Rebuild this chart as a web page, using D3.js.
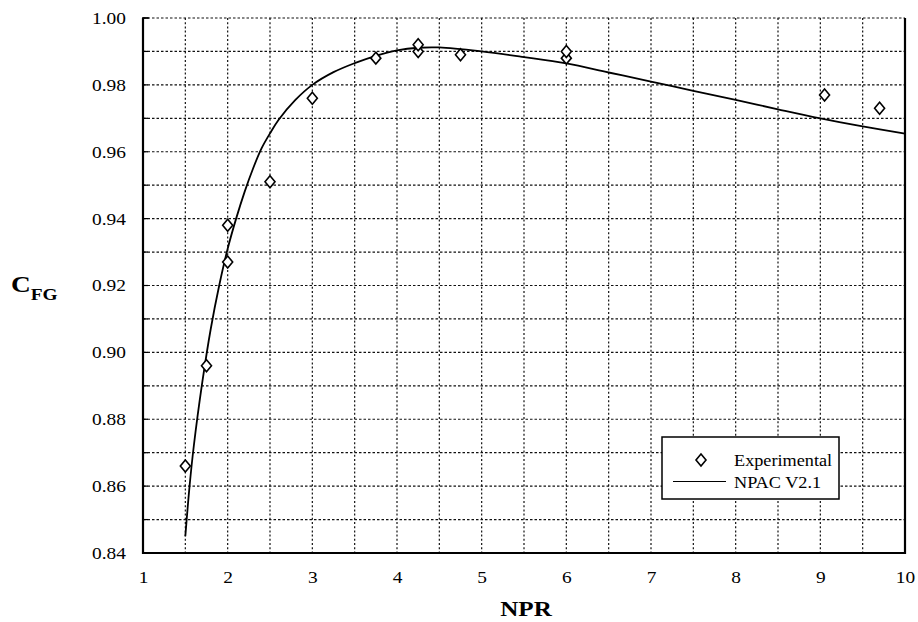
<!DOCTYPE html>
<html>
<head>
<meta charset="utf-8">
<script src="https://cdn.jsdelivr.net/npm/d3@7"></script>
<style>
  html, body { margin: 0; padding: 0; background: #fff; }
  svg { display: block; }
  text { font-family: "Liberation Serif", "Times New Roman", serif; fill: #000; }
</style>
</head>
<body>
<svg id="chart" width="918" height="622"></svg>
<script>
// ---- data ----
const expNPR = [1.5, 1.75, 2.0, 2.0, 2.5, 3.0, 3.75, 4.25, 4.25, 4.75, 6.0, 6.0, 9.05, 9.7];
const expCFG = [0.866, 0.896, 0.927, 0.938, 0.951, 0.976, 0.988, 0.990, 0.992, 0.989, 0.988, 0.990, 0.977, 0.973];

const curveNPR = [1.5, 1.55, 1.6, 1.7, 1.8, 1.9, 2.0, 2.1, 2.2, 2.3, 2.4, 2.5, 2.6, 2.8, 3.0, 3.25, 3.5, 3.75, 4.0, 4.25, 4.5, 5.0, 5.5, 6.0, 6.5, 7.0, 7.5, 8.0, 8.5, 9.0, 9.5, 10.0];
const curveCFG = [0.845, 0.860, 0.872, 0.891, 0.907, 0.920, 0.931, 0.940, 0.948, 0.955, 0.961, 0.9655, 0.9695, 0.9755, 0.9800, 0.9838, 0.9865, 0.9887, 0.9903, 0.9911, 0.9912, 0.9900, 0.9883, 0.9864, 0.9837, 0.9810, 0.9782, 0.9755, 0.9727, 0.9700, 0.9676, 0.9654];

const xTicks = [1, 2, 3, 4, 5, 6, 7, 8, 9, 10];
const yTicks = [0.84, 0.86, 0.88, 0.90, 0.92, 0.94, 0.96, 0.98, 1.00];
const xGrid = d3.range(1.5, 10, 0.5);
const yGrid = d3.range(0.85, 1.0001, 0.01);
const legendLabels = ["Experimental", "NPAC V2.1"];

// ---- layout ----
const svg = d3.select("#chart");
const L = 143, R = 905, T = 18, B = 553;
const SX = 1.14; // horizontal stretch of the scanned type
const x = d3.scaleLinear().domain([1, 10]).range([L, R]);
const y = d3.scaleLinear().domain([0.84, 1.00]).range([B, T]);

// grid
const grid = svg.append("g");
grid.selectAll("line.vg").data(xGrid).join("line")
  .attr("x1", d => x(d)).attr("x2", d => x(d)).attr("y1", T).attr("y2", B)
  .attr("stroke", "#111").attr("stroke-width", 1.2).attr("stroke-dasharray", "2,2.2");
grid.selectAll("line.hg").data(yGrid).join("line")
  .attr("x1", L).attr("x2", R).attr("y1", d => y(d)).attr("y2", d => y(d))
  .attr("stroke", "#111").attr("stroke-width", 1.2).attr("stroke-dasharray", "2.5,2");

// axes
const yAxis = d3.axisLeft(y).tickValues(yTicks).tickFormat(d3.format(".2f")).tickSize(0).tickPadding(17);
const gy = svg.append("g").attr("transform", `translate(${L},0)`).call(yAxis);
gy.select(".domain").remove();
gy.selectAll("text")
  .attr("font-family", "'Liberation Serif', serif").style("font-size", "17px")
  .attr("x", 0).attr("transform", `translate(-17,0) scale(${SX},1)`);

const xAxis = d3.axisBottom(x).tickValues(xTicks).tickFormat(d3.format("d")).tickSize(0).tickPadding(0);
const gx = svg.append("g").attr("transform", `translate(0,${B})`).call(xAxis);
gx.select(".domain").remove();
gx.selectAll("text")
  .attr("font-family", "'Liberation Serif', serif").style("font-size", "17px")
  .attr("y", 0).attr("dy", null).attr("transform", `translate(0,30) scale(${SX},1)`);

// minor ticks on left axis (inward)
svg.append("g").selectAll("line").data(yGrid).join("line")
  .attr("x1", L).attr("x2", L + 5).attr("y1", d => y(d)).attr("y2", d => y(d))
  .attr("stroke", "#000").attr("stroke-width", 1.2);

// frame
svg.append("path")
  .attr("d", `M${L},${T} L${L},${B} L${R},${B} L${R},${T}`)
  .attr("fill", "none").attr("stroke", "#000").attr("stroke-width", 2.2);
svg.append("line").attr("x1", L - 1).attr("x2", L + 6).attr("y1", T).attr("y2", T)
  .attr("stroke", "#000").attr("stroke-width", 1.5);

// curve
const curveData = curveNPR.map((v, i) => [v, curveCFG[i]]);
svg.append("path").datum(curveData)
  .attr("d", d3.line().x(d => x(d[0])).y(d => y(d[1])).curve(d3.curveCatmullRom))
  .attr("fill", "none").attr("stroke", "#000").attr("stroke-width", 1.8);

// diamonds
const diamond = "M0,-6 L5,0 L0,6 L-5,0 Z";
const expData = expNPR.map((v, i) => [v, expCFG[i]]);
svg.append("g").selectAll("path").data(expData).join("path")
  .attr("transform", d => `translate(${x(d[0])},${y(d[1])})`)
  .attr("d", diamond).attr("fill", "#fff").attr("stroke", "#000").attr("stroke-width", 1.6);

// legend
const lg = svg.append("g").attr("transform", "translate(662,437)");
lg.append("rect").attr("width", 177).attr("height", 62)
  .attr("fill", "#fff").attr("stroke", "#000").attr("stroke-width", 1.5);
lg.append("path").attr("d", diamond).attr("transform", "translate(39,23)")
  .attr("fill", "#fff").attr("stroke", "#000").attr("stroke-width", 1.6);
lg.append("text").attr("transform", `translate(72,29) scale(${SX},1)`).style("font-size", "16px").text(legendLabels[0]);
lg.append("line").attr("x1", 11).attr("x2", 64).attr("y1", 44.5).attr("y2", 44.5)
  .attr("stroke", "#000").attr("stroke-width", 1.2);
lg.append("text").attr("transform", `translate(72,51) scale(${SX},1)`).style("font-size", "16px").text(legendLabels[1]);

// axis titles
svg.append("text").attr("transform", `translate(${(L + R) / 2 + 2},616) scale(${SX},1)`).attr("text-anchor", "middle")
  .style("font-size", "22px").style("font-weight", "bold").text("NPR");
const yt = svg.append("text").attr("transform", `translate(11,292) scale(${SX},1)`).style("font-weight", "bold");
yt.append("tspan").style("font-size", "24px").text("C");
yt.append("tspan").attr("dy", 8).style("font-size", "17px").text("FG");
</script>
</body>
</html>
